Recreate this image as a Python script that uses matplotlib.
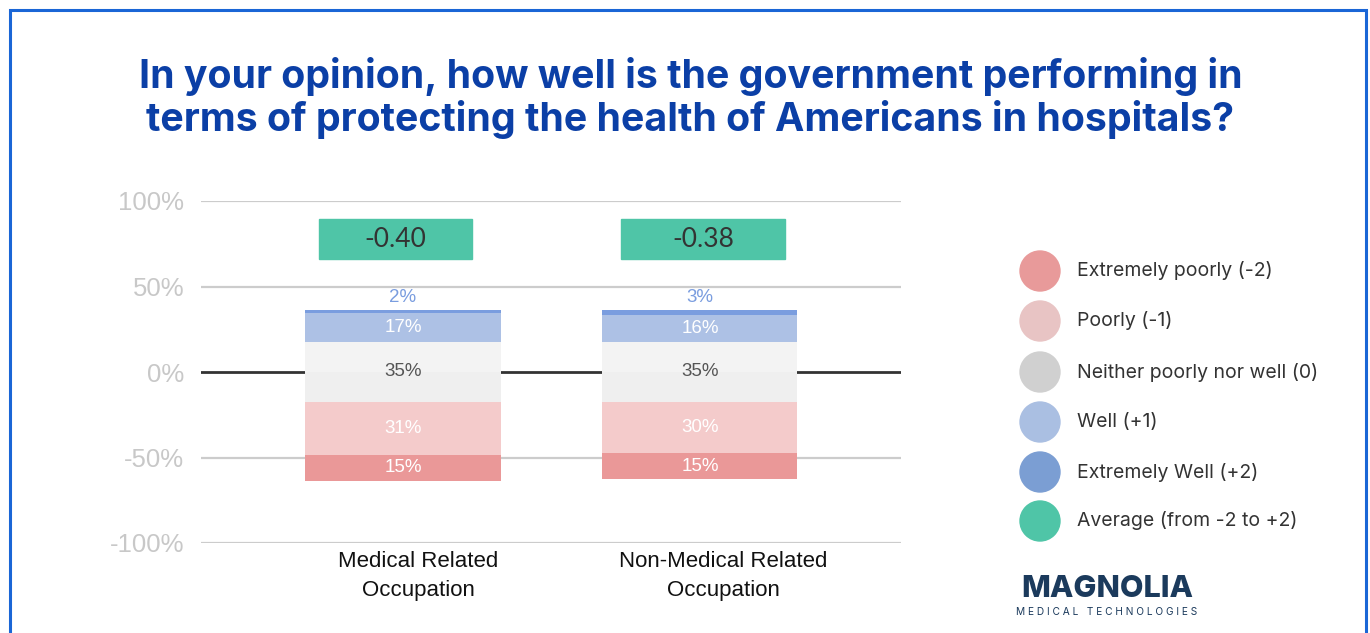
import numpy as np
import matplotlib.pyplot as plt
from matplotlib.patches import Rectangle, Ellipse

groups = ["Medical Related\nOccupation", "Non-Medical Related\nOccupation"]
extremely_poorly = [15, 15]
poorly = [31, 30]
neither = [35, 35]
well = [17, 16]
extremely_well = [2, 3]
averages = [-0.40, -0.38]

legend_labels = ["Extremely poorly (-2)", "Poorly (-1)", "Neither poorly nor well (0)",
                 "Well (+1)", "Extremely Well (+2)", "Average (from -2 to +2)"]
legend_colors = ["#e89a9a", "#e8c4c4", "#d0d0d0", "#aabfe2", "#7b9ed3", "#4fc5a7"]

c_ep = "#ea9898"
c_p = "#f4cbcb"
c_n_top = "#f3f3f3"
c_n_bot = "#efefef"
c_w = "#adc1e5"
c_ew = "#7a9ddf"

fig = plt.figure(figsize=(13.7, 6.33), dpi=100)
W, H = 1370, 633

def fx(px):
    return px / W

def fy(py):
    return 1 - py / H

ax = fig.add_axes([fx(201), fy(543), fx(901) - fx(201), fy(201) - fy(543)])
x = np.arange(len(groups))
bw = 0.657

ep = np.array(extremely_poorly)
p = np.array(poorly)
n = np.array(neither)
w = np.array(well)
ew = np.array(extremely_well)

for yv in [100, 50, -50, -100]:
    ax.axhline(yv, color="#cccccc", lw=1.6, zorder=1)
ax.axhline(0, color="#333333", lw=2, zorder=1)

# neutral is split around zero, the rest stacks outward
half = n / 2
ax.bar(x, half, bottom=0, width=bw, color=c_n_top, zorder=2)
ax.bar(x, half, bottom=-half, width=bw, color=c_n_bot, zorder=2)
ax.bar(x, w, bottom=half, width=bw, color=c_w, zorder=2)
ax.bar(x, ew, bottom=half + w, width=bw, color=c_ew, zorder=2)
ax.bar(x, p, bottom=-half - p, width=bw, color=c_p, zorder=2)
ax.bar(x, ep, bottom=-half - p - ep, width=bw, color=c_ep, zorder=2)

lab_font = dict(family="Liberation Sans", fontsize=13.5, ha="center", va="center", zorder=3)
box_dx = [-0.025, 0.01]
box_w = [0.515, 0.55]
for i in range(len(groups)):
    ax.text(x[i], 0, f"{n[i]}%", color="#555555", **lab_font)
    ax.text(x[i], half[i] + w[i] / 2, f"{w[i]}%", color="white", **lab_font)
    ax.text(x[i], -half[i] - p[i] / 2, f"{p[i]}%", color="white", **lab_font)
    ax.text(x[i], -half[i] - p[i] - ep[i] / 2, f"{ep[i]}%", color="white", **lab_font)
    ax.text(x[i], half[i] + w[i] + ew[i] + 7, f"{ew[i]}%", color="#7a9ddf", **lab_font)
    # average box
    cx = x[i] + box_dx[i]
    ax.add_patch(Rectangle((cx - box_w[i] / 2, 66), box_w[i], 23.5, color="#4fc5a7", zorder=2))
    ax.text(cx, 77.5, f"{averages[i]:.2f}", color="#333333", fontsize=19,
            family="Lato", ha="center", va="center", zorder=3)

ax.set_xlim(-0.68, 1.677)
ax.set_ylim(-100, 100)
ax.set_yticks([-100, -50, 0, 50, 100])
ax.set_yticklabels([f"{v}%" for v in [-100, -50, 0, 50, 100]],
                   family="Liberation Sans", fontsize=18.5, color="#c8c8c8")
ax.set_xticks([])
ax.tick_params(axis="y", length=0, pad=12)
for s in ax.spines.values():
    s.set_visible(False)

# category labels under bars
lab_x = [418, 723]
for lx, g in zip(lab_x, groups):
    fig.text(fx(lx), fy(576), g, ha="center", va="center", family="Liberation Sans",
             fontsize=16, color="#111111", linespacing=1.45)

fig.text(0.504, fy(98), "In your opinion, how well is the government performing in\n"
         "terms of protecting the health of Americans in hospitals?",
         ha="center", va="center", fontsize=28.3, fontweight="bold", family="Inter",
         color="#0b3fa6", linespacing=1.12)

# legend
ys = [271, 321, 372, 422, 472, 521]
for lbl, col, yy in zip(legend_labels, legend_colors, ys):
    fig.patches.append(Ellipse((fx(1040), fy(yy)), 40 / W, 40 / H, color=col,
                               transform=fig.transFigure, figure=fig))
    fig.text(fx(1077), fy(yy), lbl, fontsize=14, family="Inter", color="#333333",
             va="center", ha="left")

# border
fig.patches.append(Rectangle((fx(10), fy(640)), fx(1356), 630 / H, fill=False,
                             edgecolor="#1a66d6", lw=2.2, transform=fig.transFigure,
                             figure=fig))

# logo text
fig.text(fx(1107), fy(589), "MAGNOLIA", fontsize=22, fontweight="heavy", family="Inter",
         color="#1b3a5c", ha="center", va="center")
fig.text(fx(1107), fy(612), "M E D I C A L   T E C H N O L O G I E S", fontsize=7.3,
         family="Inter", color="#1b3a5c", ha="center", va="center")

fig.savefig("out.png", dpi=100)
